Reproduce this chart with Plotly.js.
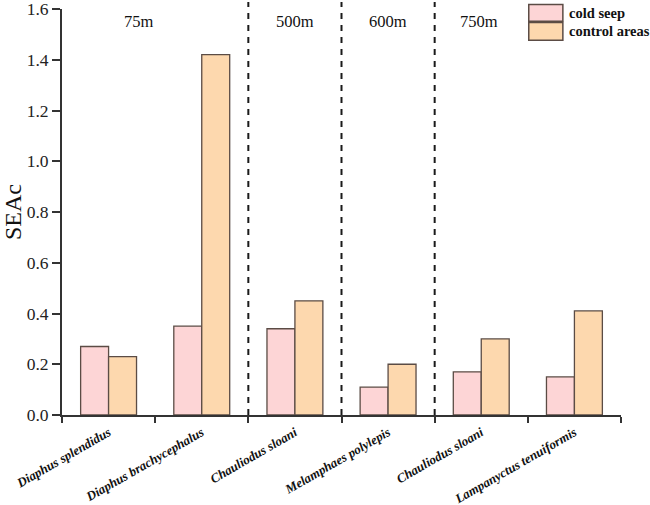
<!DOCTYPE html>
<html>
<head>
<meta charset="utf-8">
<script src="https://cdn.plot.ly/plotly-3.0.1.min.js"></script>
<style>html,body{margin:0;padding:0;background:#fff;}#chart{width:650px;height:505px;}</style>
</head>
<body>
<div id="chart"></div>
<script>
// ---- data ----
const species = ["Diaphus splendidus", "Diaphus brachycephalus", "Chauliodus sloani", "Melamphaes polylepis", "Chauliodus sloani", "Lampanyctus tenuiformis"];
const depths = ["75m", "75m", "500m", "600m", "750m", "750m"];
const coldSeep = [0.27, 0.35, 0.34, 0.11, 0.17, 0.15];
const controlAreas = [0.23, 1.42, 0.45, 0.20, 0.30, 0.41];
const seriesNames = ["cold seep", "control areas"];
const seriesColors = ["#FDD5D6", "#FDD8AE"];
const yTicks = [0, 0.2, 0.4, 0.6, 0.8, 1.0, 1.2, 1.4, 1.6];

// ---- build ----
const idx = species.map((_, i) => i);
const edge = "#5b4c45";
const serif = "'Liberation Serif', 'Times New Roman', serif";

const traces = [coldSeep, controlAreas].map((vals, k) => ({
  type: "bar",
  x: idx,
  y: vals,
  name: seriesNames[k],
  marker: { color: seriesColors[k], line: { color: edge, width: 1.3 } },
  showlegend: false,
  hoverinfo: "x+y"
}));

const shapes = [];
const annotations = [];

// dashed separators where depth changes
for (let i = 1; i < depths.length; i++) {
  if (depths[i] !== depths[i - 1]) {
    shapes.push({
      type: "line", xref: "x", yref: "paper",
      x0: i - 0.5, x1: i - 0.5, y0: 0, y1: 1.017,
      line: { color: "#1a1a1a", width: 2, dash: "6px,6px" }
    });
  }
}

// depth group labels
const groups = [];
depths.forEach((d, i) => {
  const g = groups.find(o => o.d === d);
  if (g) g.idx.push(i); else groups.push({ d: d, idx: [i] });
});
const groupShift = { "75m": -16, "500m": 0, "600m": 0, "750m": -49 };
groups.forEach(g => {
  const c = g.idx.reduce((a, b) => a + b, 0) / g.idx.length;
  annotations.push({
    x: c, y: 1, xref: "x", yref: "paper", yshift: -12,
    text: g.d, showarrow: false, xshift: groupShift[g.d] || 0,
    font: { family: serif, size: 16.5, color: "#111" },
    xanchor: "center", yanchor: "middle"
  });
});

// custom legend
const legBoxes = [[1.011, 0.970], [0.967, 0.923]];
seriesNames.forEach((n, k) => {
  shapes.push({
    type: "rect", xref: "paper", yref: "paper",
    x0: 0.835, x1: 0.896, y0: legBoxes[k][1], y1: legBoxes[k][0],
    fillcolor: seriesColors[k], line: { color: edge, width: 1.5 }
  });
  annotations.push({
    x: 0.903, y: (legBoxes[k][0] + legBoxes[k][1]) / 2, xref: "paper", yref: "paper",
    text: "<b>" + n + "</b>", showarrow: false, xanchor: "left", yanchor: "middle",
    font: { family: serif, size: 14.5, color: "#111" }
  });
});

const layout = {
  width: 650, height: 505,
  margin: { l: 62, r: 29, t: 8.6, b: 90 },
  paper_bgcolor: "#fff", plot_bgcolor: "#fff",
  font: { family: serif },
  barmode: "group", bargap: 0.4, bargroupgap: 0,
  xaxis: {
    range: [-0.5, species.length - 0.5],
    tickmode: "array", tickvals: idx,
    ticktext: species.map(s => "<b><i>" + s + "</i></b>"),
    ticks: "", tickangle: -30, ticklabelstandoff: 3, ticklabeloverflow: "allow",
    tickfont: { family: serif, size: 13, color: "#111" },
    showline: true, linecolor: "#333", linewidth: 2,
    showgrid: false, zeroline: false, fixedrange: true,
    minor: {
      tickmode: "array",
      tickvals: idx.concat([species.length]).map(i => i - 0.5),
      ticks: "outside", ticklen: 6, tickwidth: 2, tickcolor: "#333", showgrid: false
    }
  },
  yaxis: {
    range: [0, 1.6],
    tickmode: "array", tickvals: yTicks, ticktext: yTicks.map(v => v.toFixed(1)),
    ticks: "outside", ticklen: 8, tickwidth: 2, tickcolor: "#333", ticklabeloverflow: "allow",
    tickfont: { family: serif, size: 17.5, color: "#222" },
    showline: true, linecolor: "#333", linewidth: 2,
    showgrid: false, zeroline: false, fixedrange: true,
    title: { text: "SEAc", font: { family: serif, size: 24, color: "#111" }, standoff: 10 }
  },
  shapes: shapes,
  annotations: annotations,
  showlegend: false
};

Plotly.newPlot("chart", traces, layout, { displayModeBar: false, staticPlot: true });
</script>
</body>
</html>
